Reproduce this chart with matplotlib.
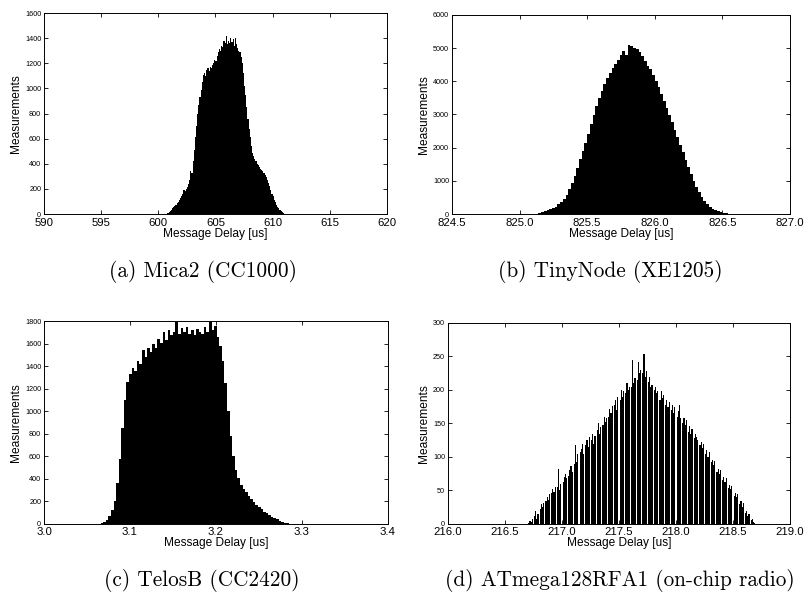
import numpy as np
import matplotlib
matplotlib.use("Agg")
import matplotlib.pyplot as plt
from matplotlib.ticker import FormatStrFormatter

# (a) Mica2 (CC1000): bins of 0.1 us starting at 600.7
mica_start = 600.7
mica_width = 0.1
mica_counts = [
    2, 8, 15, 25, 35, 45, 55, 65, 75, 90,
    100, 115, 130, 140, 160, 190, 180, 200, 215, 240,
    270, 340, 330, 420, 510, 610, 700, 800, 870, 930,
    990, 1050, 1110, 1120, 1100, 1150, 1160, 1140, 1170, 1160,
    1190, 1200, 1230, 1220, 1260, 1290, 1310, 1300, 1340, 1330,
    1380, 1360, 1420, 1350, 1380, 1360, 1400, 1370, 1390, 1340,
    1400, 1350, 1320, 1300, 1290, 1250, 1200, 1120, 1020, 950,
    850, 760, 680, 610, 540, 490, 460, 440, 420, 400,
    390, 375, 360, 350, 340, 330, 310, 295, 270, 250,
    220, 190, 160, 140, 110, 95, 75, 60, 45, 35,
    25, 15, 8, 4, 2,
]

# (b) TinyNode (XE1205): bins of 0.02 us starting at 825.10
tiny_start = 825.10
tiny_width = 0.02
tiny_counts = [
    5, 15, 30, 55, 80, 110, 140, 170, 220, 290,
    370, 460, 580, 740, 930, 1150, 1380, 1650, 1900, 2150,
    2420, 2700, 2980, 3250, 3500, 3720, 3920, 4100, 4250, 4390,
    4520, 4640, 4780, 4900, 4800, 5080, 5060, 5000, 4960, 4870,
    4760, 4620, 4460, 4360, 4200, 4020, 3830, 3630, 3420, 3200,
    2980, 2760, 2540, 2310, 2080, 1860, 1640, 1420, 1200, 1000,
    820, 660, 520, 400, 300, 220, 160, 115, 80, 55,
    35, 22, 12, 5,
]

# (c) TelosB (CC2420): bins of 0.003 us starting at 3.066
telos_start = 3.066
telos_width = 0.003
telos_counts = [
    5, 15, 35, 70, 120, 200, 360, 580, 850, 1100,
    1260, 1330, 1380, 1360, 1450, 1420, 1540, 1480, 1560, 1530,
    1600, 1560, 1640, 1610, 1700, 1630, 1720, 1680, 1700, 1790,
    1690, 1740, 1700, 1750, 1690, 1720, 1680, 1730, 1700, 1690,
    1750, 1700, 1790, 1720, 1760, 1660, 1580, 1450, 1250, 1000,
    780, 600, 480, 410, 350, 310, 280, 250, 220, 195,
    170, 150, 130, 110, 95, 80, 65, 52, 40, 30,
    20, 12, 5,
]

# (d) ATmega128RFA1: bins of 0.01 us, every fifth bin empty
atm_start = 216.705
atm_width = 0.01
atm_groups = [
    [2, 4, 3, 8], [12, 20, 8, 15], [22, 30, 26, 32], [34, 40, 36, 45],
    [46, 52, 48, 55], [55, 82, 50, 60], [62, 70, 75, 68], [72, 80, 86, 78],
    [90, 118, 92, 104], [108, 112, 120, 105], [118, 125, 115, 130], [126, 135, 120, 132],
    [140, 150, 135, 145], [148, 160, 152, 158], [160, 172, 165, 176], [178, 185, 170, 190],
    [185, 200, 190, 198], [195, 210, 200, 205], [205, 245, 210, 218], [215, 242, 225, 230],
    [225, 253, 220, 228], [212, 220, 205, 208], [200, 205, 195, 198], [185, 198, 188, 192],
    [178, 185, 175, 182], [170, 178, 165, 175], [160, 168, 178, 158], [150, 158, 148, 155],
    [138, 146, 135, 142], [128, 135, 130, 126], [118, 122, 114, 120], [104, 110, 100, 108],
    [92, 96, 88, 94], [78, 82, 74, 80], [65, 70, 62, 68], [54, 58, 52, 56],
    [42, 46, 40, 44], [30, 34, 26, 32], [16, 20, 12, 15], [6, 8, 3, 2],
]
atm_counts = [v for g in atm_groups for v in g + [0]]

panels = [
    dict(counts=mica_counts, start=mica_start, width=mica_width,
         xlim=(590, 620), xstep=5, xfmt="%d", ylim=(0, 1600), ystep=200,
         caption="(a) Mica2 (CC1000)"),
    dict(counts=tiny_counts, start=tiny_start, width=tiny_width,
         xlim=(824.5, 827.0), xstep=0.5, xfmt="%.1f", ylim=(0, 6000), ystep=1000,
         caption="(b) TinyNode (XE1205)"),
    dict(counts=telos_counts, start=telos_start, width=telos_width,
         xlim=(3.0, 3.4), xstep=0.1, xfmt="%.1f", ylim=(0, 1800), ystep=200,
         caption="(c) TelosB (CC2420)"),
    dict(counts=atm_counts, start=atm_start, width=atm_width,
         xlim=(216.0, 219.0), xstep=0.5, xfmt="%.1f", ylim=(0, 300), ystep=50,
         caption="(d) ATmega128RFA1 (on-chip radio)"),
]

# axes rectangles in figure fractions (left, bottom, width, height)
rects = [
    (0.0545, 0.639, 0.425, 0.339),
    (0.560, 0.639, 0.419, 0.336),
    (0.0545, 0.1164, 0.426, 0.342),
    (0.555, 0.1164, 0.424, 0.339),
]
caption_pos = [(203, 272), (610, 272), (202, 580), (620, 580)]

W, H = 807, 593
plt.rcParams['font.family'] = ['Liberation Sans', 'DejaVu Sans']
fig = plt.figure(figsize=(W / 100, H / 100), dpi=100)

for p, r, cp in zip(panels, rects, caption_pos):
    ax = fig.add_axes(r)
    counts = np.array(p["counts"], dtype=float)
    edges = p["start"] + p["width"] * np.arange(len(counts) + 1)
    ax.stairs(counts, edges, fill=True, color="black", linewidth=0)
    ax.set_xlim(*p["xlim"])
    ax.set_ylim(*p["ylim"])
    x0, x1 = p["xlim"]
    ax.set_xticks(np.arange(x0, x1 + p["xstep"] / 2, p["xstep"]))
    ax.set_yticks(np.arange(0, p["ylim"][1] + 1, p["ystep"]))
    ax.xaxis.set_major_formatter(FormatStrFormatter(p["xfmt"]))
    ax.tick_params(direction="in", top=True, right=True, length=3, width=0.6)
    ax.tick_params(axis="x", labelsize=8.2, pad=2.5)
    ax.tick_params(axis="y", labelsize=5.2, pad=2)
    for s in ax.spines.values():
        s.set_linewidth(0.7)
    ax.set_xlabel("Message Delay [us]", fontsize=8.6, labelpad=0)
    ax.set_ylabel("Measurements", fontsize=8.6, labelpad=2)
    fig.text(cp[0] / W, 1 - cp[1] / H, p["caption"], ha="center", va="center",
             fontsize=15.3, family="cmr10")

fig.savefig("out.png", dpi=100)
